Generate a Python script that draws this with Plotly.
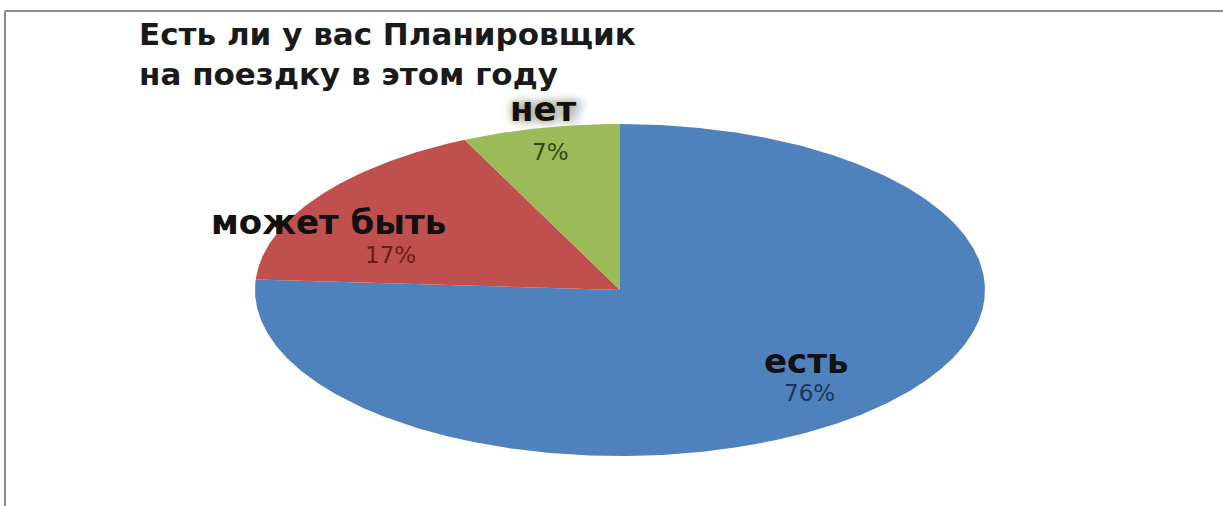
import numpy as np
import plotly.graph_objects as go

# ---- data ----
categories = ["есть", "может быть", "нет"]
values = [76, 17, 7]
title_lines = ["Есть ли у вас Планировщик", "на поездку в этом году"]

# ---- style ----
colors = ["#4F81BD", "#C0504D", "#9BBB59"]
pct_colors = ["#1B3557", "#6E1A17", "#2F4A14"]
W, H = 1223, 506
cx_px, cy_px = 620, 290      # pie centre in pixels
rx_px, ry_px = 365, 166      # horizontal / vertical radius in pixels
# label anchors in unit-pie coordinates (name line, percent line)
name_pos = [(0.51, -0.43), (-0.80, 0.41), (-0.21, 1.09)]
pct_pos = [(0.52, -0.62), (-0.63, 0.21), (-0.19, 0.83)]

x0 = -cx_px / rx_px
x1 = x0 + W / rx_px
y1 = cy_px / ry_px
y0 = y1 - H / ry_px

fig = go.Figure()
total = float(sum(values))
start = 0.0
for cat, v, col in zip(categories, values, colors):
    frac = v / total
    end = start + frac * 2 * np.pi
    n = max(int(frac * 720), 8)
    th = np.linspace(start, end, n)
    xs = np.concatenate([[0.0], np.sin(th), [0.0]])
    ys = np.concatenate([[0.0], np.cos(th), [0.0]])
    fig.add_trace(go.Scatter(x=xs, y=ys, mode="lines", fill="toself",
                             fillcolor=col, line=dict(width=0, color=col),
                             name=cat, hoverinfo="name", showlegend=False))
    start = end

for i, (cat, v) in enumerate(zip(categories, values)):
    pct = f"{round(v / total * 100)}%"
    fig.add_annotation(x=name_pos[i][0], y=name_pos[i][1], text=cat, showarrow=False,
                       xanchor="center", yanchor="middle",
                       font=dict(family="DejaVu Sans", size=34, color="#111111", weight="bold",
                                 shadow=("0px 0px 6px #b9ae86, 0px 0px 12px #c2b892, 8px 0px 10px #9db6d6"
                                         if i == 2 else "none")))
    fig.add_annotation(x=pct_pos[i][0], y=pct_pos[i][1], text=pct, showarrow=False,
                       xanchor="center", yanchor="middle",
                       font=dict(family="DejaVu Sans", size=23, color=pct_colors[i]))

fig.add_annotation(xref="paper", yref="paper", x=137 / W, y=1 - 14 / H,
                   text="<br>".join(title_lines), showarrow=False, align="left",
                   xanchor="left", yanchor="top",
                   font=dict(family="DejaVu Sans", size=31, color="#1a1a1a", weight="bold"))

# frame lines (top and left)
fig.add_shape(type="line", xref="paper", yref="paper", x0=5 / W, x1=1, y0=1 - 11 / H, y1=1 - 11 / H,
              line=dict(color="#8a8a8a", width=2))
fig.add_shape(type="line", xref="paper", yref="paper", x0=5 / W, x1=5 / W, y0=0, y1=1 - 11 / H,
              line=dict(color="#8a8a8a", width=2))

fig.update_layout(width=W, height=H, margin=dict(l=0, r=0, t=0, b=0),
                  paper_bgcolor="white", plot_bgcolor="white",
                  xaxis=dict(range=[x0, x1], visible=False, fixedrange=True),
                  yaxis=dict(range=[y0, y1], visible=False, fixedrange=True),
                  showlegend=False)

fig.write_html("out.html")
